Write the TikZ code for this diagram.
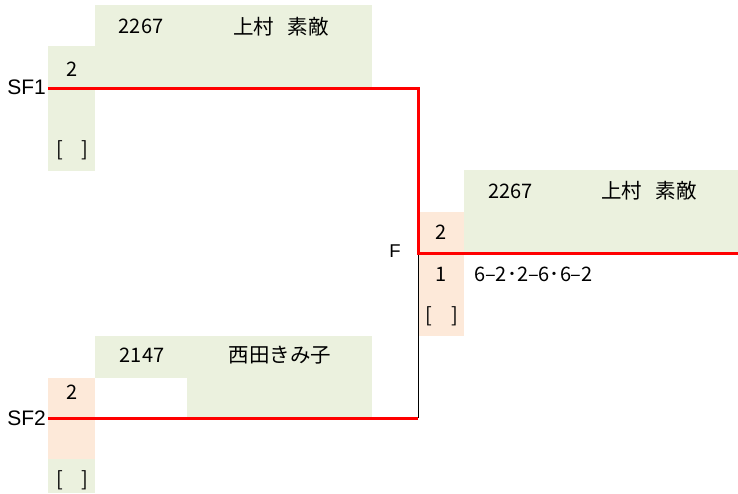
\documentclass[tikz,border=0pt]{standalone}
\usepackage{fontspec}
\setmainfont{Liberation Sans}
\newfontfamily\jpfont{Noto Sans CJK JP}
\definecolor{cellgreen}{HTML}{EBF1DE}
\definecolor{cellpeach}{HTML}{FDE9D9}
\newcommand{\halfcell}[2][c]{\makebox[10.7pt][#1]{#2}}
\tikzset{winline/.style={red, line width=3pt},
  loseline/.style={black, line width=1pt},
  cell/.style={inner sep=0pt, font=\jpfont\fontsize{20}{20}\selectfont},
  namecell/.style={inner sep=0pt, font=\jpfont\fontsize{20.5}{20.5}\selectfont},
  roundname/.style={inner sep=0pt, anchor=east, font=\fontsize{21}{21}\selectfont}}
\begin{document}
\begin{tikzpicture}[x=1pt, y=-1pt]
      \useasboundingbox (0,0) rectangle (738,493);

      \fill [cellgreen] (95,5) rectangle (372,46);
      \fill [cellgreen] (48,46) rectangle (372,87);
      \fill [cellgreen] (48,87) rectangle (95,171);
      \fill [cellgreen] (464,170) rectangle (738,253);
      \fill [cellpeach] (418,212) rectangle (464,336);
      \fill [cellgreen] (95,336) rectangle (372,378);
      \fill [cellpeach] (48,378) rectangle (95,459);
      \fill [cellgreen] (187,378) rectangle (372,418);
      \fill [cellgreen] (48,459) rectangle (95,493);

      \coordinate (sf1end) at (48,88);
      \coordinate (sf2end) at (48,418);
      \coordinate (sf2turn) at (418,418);
      \coordinate (fjoin) at (418,253);
      \coordinate (fend) at (738,253);

      \draw [loseline] (sf2turn) -- (fjoin);
      \draw [winline] (sf1end) -| (fjoin) -- (fend);
      \draw [winline] (sf2end) -- (sf2turn);

      \node [roundname] (sf1) at (46,87.5) {SF1};
      \node [roundname] (sf2) at (46,418) {SF2};
      \node [inner sep=0pt, font=\fontsize{18.5}{18.5}\selectfont] (f) at (395,251.5) {F};

      \node [cell] (no1) at (141,26) {2267};
      \node [namecell] (name1) at (281,26.5) {上村\hspace{14pt}素敵};
      \node [cell] (games1) at (72.5,69) {2};
      \node [cell] (seed1) at (72.5,150.5) {\halfcell[l]{[}\halfcell{}\halfcell[r]{]}};

      \node [cell] (no2) at (142,355) {2147};
      \node [namecell] (name2) at (280,355) {西田きみ子};
      \node [cell] (games2) at (72.5,392.5) {2};
      \node [cell] (seed2) at (72.5,480) {\halfcell[l]{[}\halfcell{}\halfcell[r]{]}};

      \node [cell] (nowin) at (510.5,191) {2267};
      \node [namecell] (namewin) at (649,190.5) {上村\hspace{14pt}素敵};
      \node [cell] (gameswin) at (441,232.5) {2};
      \node [cell] (gameslose) at (441,274.5) {1};
      \node [cell] (score) at (533.5,274.5) {\halfcell{6}\halfcell{–}\halfcell{2}\halfcell{･}\halfcell{2}\halfcell{–}\halfcell{6}\halfcell{･}\halfcell{6}\halfcell{–}\halfcell{2}};
      \node [cell] (seedf) at (442,316) {\halfcell[l]{[}\halfcell{}\halfcell[r]{]}};

    \end{tikzpicture}
\end{document}
